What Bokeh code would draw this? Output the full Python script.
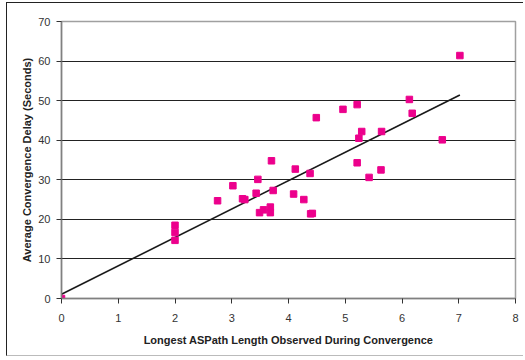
import numpy as np
from bokeh.plotting import figure
from bokeh.models import ColumnDataSource, FixedTicker, Range1d
from bokeh.embed import file_html
from bokeh.resources import INLINE

# Longest ASPath length observed vs. average convergence delay (seconds)
aspath_len = [0.0, 2.0, 2.0, 2.0, 2.75, 3.02, 3.19, 3.23, 3.46, 3.43, 3.49, 3.56,
              3.68, 3.68, 3.70, 3.73, 4.09, 4.12, 4.27, 4.38, 4.39, 4.42, 4.49,
              4.96, 5.21, 5.24, 5.29, 5.21, 5.42, 5.63, 5.64, 6.13, 6.18, 6.71, 7.02]
conv_delay = [0.0, 18.5, 16.7, 14.7, 24.7, 28.5, 25.2, 25.0, 30.1, 26.6, 21.7, 22.4,
              23.1, 21.7, 34.8, 27.3, 26.4, 32.7, 25.0, 31.6, 21.4, 21.5, 45.7,
              47.8, 49.0, 40.5, 42.2, 34.3, 30.6, 32.5, 42.2, 50.3, 46.8, 40.1, 61.4]
x_ticks = [0, 1, 2, 3, 4, 5, 6, 7, 8]
y_ticks = [0, 10, 20, 30, 40, 50, 60, 70]

slope, intercept = np.polyfit(aspath_len, conv_delay, 1)
trend_x = [min(aspath_len), max(aspath_len)]
trend_y = [intercept + slope * v for v in trend_x]

p = figure(width=517, height=354, output_backend="svg", toolbar_location=None,
           x_range=Range1d(0, 8), y_range=Range1d(0, 70),
           min_border_left=54, min_border_right=9, min_border_top=18, min_border_bottom=59)

p.line(trend_x, trend_y, line_color="#1a1a1a", line_width=1.6)
src = ColumnDataSource(dict(x=aspath_len, y=conv_delay))
p.scatter("x", "y", source=src, marker="square", size=6.5,
          fill_color="#ec008c", line_color="#ec008c")

p.xgrid.visible = False
p.ygrid.ticker = FixedTicker(ticks=y_ticks)
p.ygrid.grid_line_color = "#222222"
p.ygrid.grid_line_width = 1

p.outline_line_color = "#a0a0a0"
p.outline_line_width = 1.5

for ax in (p.xaxis[0], p.yaxis[0]):
    ax.axis_line_color = "#808080"
    ax.axis_line_width = 1.5
    ax.major_tick_line_color = "#333333"
    ax.major_tick_in = 0
    ax.major_tick_out = 5
    ax.minor_tick_line_color = None
    ax.major_label_text_font = "Liberation Sans"
    ax.major_label_text_font_size = "11px"
    ax.major_label_text_color = "#333333"
    ax.axis_label_text_font = "Liberation Sans"
    ax.axis_label_text_font_size = "11px"
    ax.axis_label_text_font_style = "bold"
    ax.axis_label_text_color = "#222222"

p.xaxis[0].ticker = FixedTicker(ticks=x_ticks)
p.yaxis[0].ticker = FixedTicker(ticks=y_ticks)
p.xaxis[0].axis_label = "Longest ASPath Length Observed During Convergence"
p.yaxis[0].axis_label = "Average Convergence Delay (Seconds)"
p.xaxis[0].major_label_standoff = 10
p.xaxis[0].axis_label_standoff = 9
p.yaxis[0].major_label_standoff = 6
p.yaxis[0].axis_label_standoff = 2

p.styles = {"margin-left": "6px", "margin-top": "2px",
            "border-left": "1.5px solid #222", "border-top": "1.5px solid #222",
            "border-bottom": "1px solid #bbb"}

open("out.html", "w").write(file_html(p, INLINE))
